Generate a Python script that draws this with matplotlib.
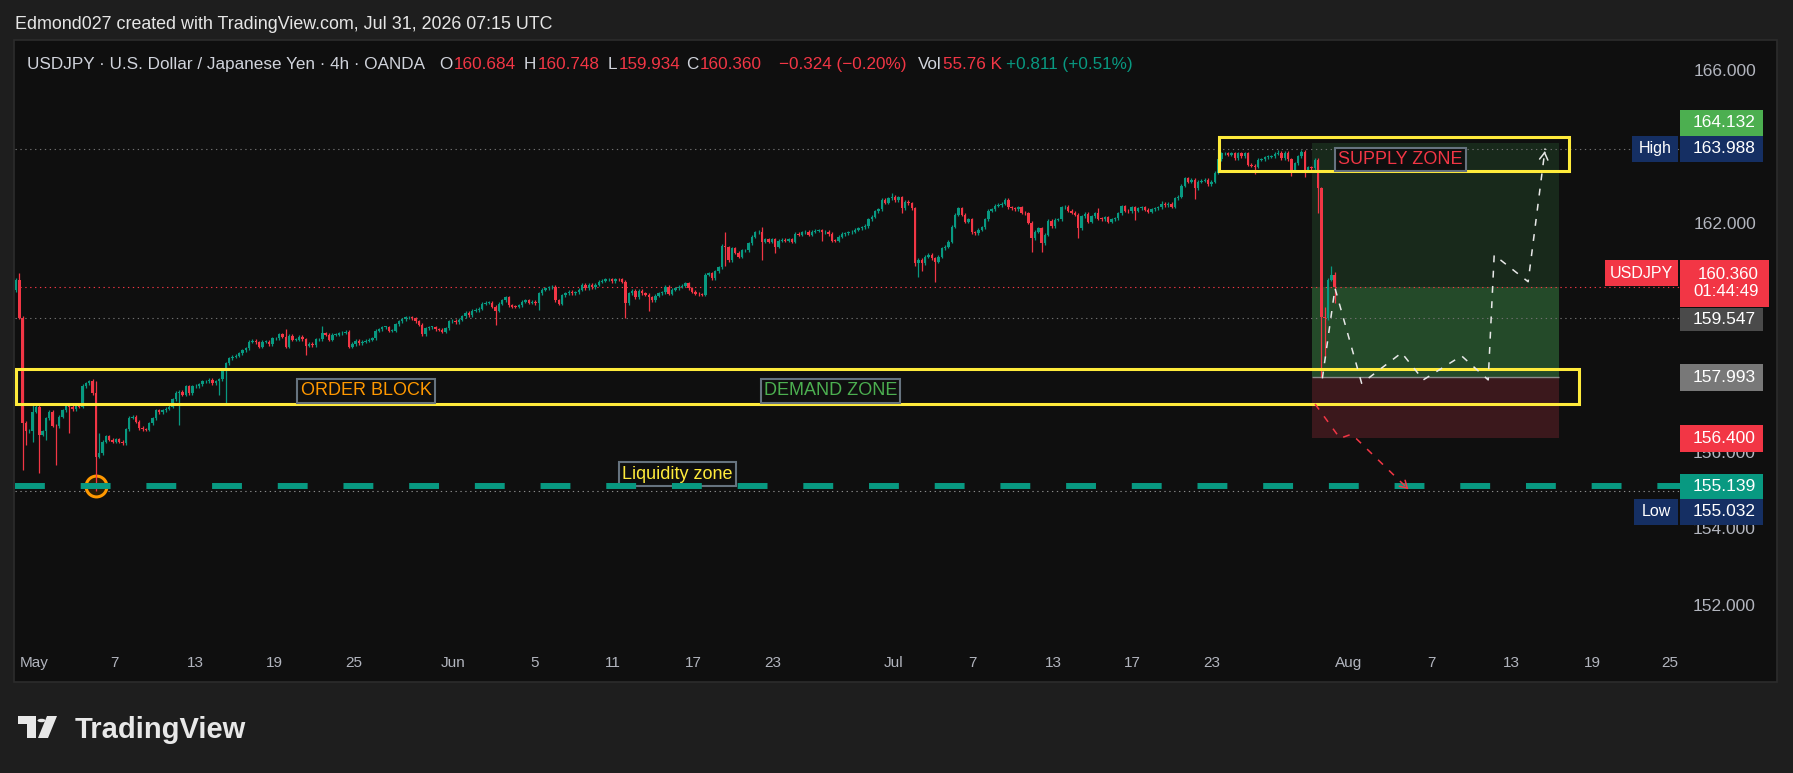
import numpy as np
import matplotlib
matplotlib.use('Agg')
import matplotlib.pyplot as plt
from matplotlib import font_manager
from matplotlib.patches import Rectangle, Polygon, Circle

W, H = 1793, 773

# ---- USDJPY 4h candles (open of each bar = previous close) ----
first_open = 160.28
closes = [
    160.55, 159.56, 156.81, 156.58, 156.60, 157.10, 157.23, 156.49, 156.58, 156.93,
    157.10, 156.73, 156.71, 156.97, 157.14, 157.27, 157.23, 157.16, 157.29, 157.23,
    157.77, 157.84, 157.90, 157.58, 155.92, 156.01, 156.31, 156.45, 156.36, 156.31,
    156.38, 156.31, 156.27, 156.64, 156.94, 156.97, 156.84, 156.67, 156.64, 156.62,
    156.79, 156.93, 157.13, 157.08, 157.14, 157.17, 157.23, 157.42, 157.60, 157.62,
    157.54, 157.76, 157.58, 157.76, 157.77, 157.82, 157.89, 157.90, 157.93, 157.84,
    157.90, 157.95, 158.15, 158.37, 158.50, 158.54, 158.56, 158.63, 158.71, 158.76,
    158.93, 158.96, 158.91, 158.80, 158.93, 158.93, 158.86, 159.02, 159.02, 159.13,
    159.06, 158.80, 159.08, 158.98, 158.98, 159.06, 158.99, 158.82, 158.87, 158.84,
    158.99, 158.99, 159.15, 159.11, 158.98, 159.11, 159.11, 159.15, 159.17, 159.19,
    158.80, 158.87, 158.95, 158.89, 158.93, 158.95, 158.98, 159.02, 159.22, 159.26,
    159.31, 159.31, 159.22, 159.22, 159.39, 159.46, 159.52, 159.57, 159.57, 159.54,
    159.46, 159.37, 159.13, 159.28, 159.31, 159.31, 159.26, 159.24, 159.19, 159.28,
    159.46, 159.48, 159.44, 159.50, 159.60, 159.69, 159.63, 159.74, 159.76, 159.79,
    159.92, 159.95, 159.95, 159.85, 159.74, 159.92, 160.01, 160.09, 159.89, 159.85,
    159.84, 159.89, 159.98, 160.02, 159.95, 159.98, 159.94, 160.20, 160.29, 160.33,
    160.35, 160.37, 160.01, 159.92, 160.15, 160.20, 160.24, 160.20, 160.22, 160.29,
    160.42, 160.33, 160.42, 160.36, 160.42, 160.50, 160.53, 160.56, 160.56, 160.52,
    160.57, 160.56, 160.50, 159.94, 160.20, 160.27, 160.09, 160.27, 160.20, 160.16,
    160.09, 160.02, 160.13, 160.20, 160.22, 160.37, 160.18, 160.29, 160.33, 160.37,
    160.39, 160.46, 160.33, 160.24, 160.18, 160.17, 160.16, 160.68, 160.72, 160.59,
    160.77, 160.88, 161.44, 161.40, 161.07, 161.38, 161.26, 161.16, 161.32, 161.33,
    161.51, 161.68, 161.79, 161.81, 161.55, 161.61, 161.55, 161.61, 161.42, 161.57,
    161.60, 161.57, 161.61, 161.55, 161.75, 161.73, 161.79, 161.81, 161.73, 161.81,
    161.84, 161.85, 161.79, 161.81, 161.75, 161.58, 161.57, 161.68, 161.75, 161.77,
    161.79, 161.81, 161.86, 161.90, 161.93, 161.96, 162.14, 162.20, 162.34, 162.40,
    162.64, 162.57, 162.69, 162.73, 162.64, 162.71, 162.42, 162.60, 162.55, 162.42,
    161.00, 161.07, 160.98, 161.16, 161.20, 161.11, 161.03, 161.16, 161.38, 161.42,
    161.55, 161.94, 162.25, 162.42, 162.25, 162.07, 162.14, 161.79, 161.77, 161.86,
    161.93, 162.14, 162.36, 162.40, 162.49, 162.51, 162.54, 162.64, 162.45, 162.42,
    162.40, 162.45, 162.31, 162.29, 162.05, 161.64, 161.81, 161.90, 161.51, 161.73,
    162.09, 161.96, 162.12, 162.14, 162.45, 162.47, 162.36, 162.31, 162.25, 161.90,
    162.21, 162.28, 162.07, 162.21, 162.29, 162.15, 162.14, 162.19, 162.07, 162.14,
    162.16, 162.29, 162.48, 162.36, 162.34, 162.45, 162.36, 162.42, 162.45, 162.38,
    162.33, 162.40, 162.42, 162.45, 162.54, 162.51, 162.54, 162.47, 162.69, 162.73,
    163.01, 163.21, 163.12, 163.17, 162.95, 163.12, 163.14, 163.17, 163.06, 163.12,
    163.36, 163.71, 163.86, 163.86, 163.82, 163.86, 163.73, 163.86, 163.79, 163.86,
    163.56, 163.54, 163.51, 163.69, 163.71, 163.76, 163.77, 163.79, 163.85, 163.88,
    163.73, 163.88, 163.71, 163.43, 163.60, 163.79, 163.90, 163.43, 163.50, 163.47,
    163.69, 162.95, 159.59, 159.55, 160.55, 160.684, 160.36,
]
# long wicks, keyed by bar index
wick_high = {1: 160.73, 5: 157.32, 23: 157.95, 24: 157.90, 25: 156.55, 81: 159.25,
             92: 159.34, 213: 161.81, 224: 161.94, 263: 162.83, 325: 162.42,
             344: 162.62, 361: 163.988, 379: 163.95, 393: 159.85, 395: 160.90,
             396: 160.748}
wick_low = {2: 155.57, 3: 156.23, 5: 156.31, 7: 155.50, 9: 156.36, 12: 155.70,
            16: 156.55, 24: 155.032, 49: 156.75, 61: 157.54, 63: 157.32, 87: 158.58,
            144: 159.37, 157: 159.76, 183: 159.54, 190: 159.74, 213: 160.90,
            224: 161.07, 228: 161.26, 242: 161.58, 266: 162.31, 270: 160.90,
            271: 160.63, 272: 160.77, 276: 160.50, 305: 161.29, 308: 161.29,
            319: 161.64, 336: 162.12, 354: 162.67, 372: 163.32, 383: 163.27,
            387: 163.25, 391: 162.31, 392: 157.993, 393: 158.54, 396: 159.934}

time_ticks = [5.4, 29.7, 53.8, 77.5, 101.5, 131.2, 155.6, 179.3, 203.3, 227.3,
              263.4, 287.1, 311.4, 335.1, 359.2, 400.3, 425.2, 449.2, 473.3, 496.7]
time_labels = ['May', '7', '13', '19', '25', 'Jun', '5', '11', '17', '23',
               'Jul', '7', '13', '17', '23', 'Aug', '7', '13', '19', '25']
# scale labels that are not hidden behind the price tags
price_ticks = [152, 154, 156, 162, 166]

last_price = 160.36
countdown = '01:44:49'
entry, target, stop = 157.993, 164.132, 156.400
mid_level = 159.547
liquidity = 155.139
high_val, low_val = 163.988, 155.032
low_bar = 24

supply_zone = (361.3, 466.4, 163.40, 164.29)
demand_zone = (-0.1, 469.4, 157.29, 158.21)
position_span = (389.2, 463.4)

path_bars = [392.3, 396.1, 404.1, 416.1, 422.6, 434.1, 442.1, 443.9, 454.1, 459.2]
path_prices = [157.97, 160.33, 157.84, 158.64, 157.93, 158.56, 157.93, 161.20, 160.50, 163.99]
drop_bars = [390.1, 397.6, 401.1, 418.1]
drop_prices = [157.30, 156.40, 156.51, 155.07]

zone_labels = ['ORDER BLOCK', 'DEMAND ZONE', 'SUPPLY ZONE', 'Liquidity zone']
zone_label_x = [105.1, 244.6, 415.7, 198.6]
zone_label_y = [157.64, 157.64, 163.70, 155.46]
zone_label_colors = ['#ff9800', '#4caf50', '#f23645', '#ffeb3b']

# ---- style ----
GREEN, RED, YELLOW = '#089981', '#f23645', '#ffeb3b'
TXT, AXT = '#d1d4dc', '#b2b5be'
names = {f.name for f in font_manager.fontManager.ttflist}
FONT = 'Liberation Sans'
NARROW = 'Liberation Sans Narrow' if 'Liberation Sans Narrow' in names else FONT
zone_fs = 15.5 if NARROW != FONT else 13
plt.rcParams['font.family'] = [FONT, 'DejaVu Sans']


def fig_xy(x, y):
    return x / W, 1 - y / H


fig = plt.figure(figsize=(W / 100, H / 100), dpi=100, facecolor='#1e1e1e')
fig.patches.append(Rectangle(fig_xy(14, 682), 1763 / W, 642 / H, transform=fig.transFigure,
                             facecolor='#0f0f0f', edgecolor='#2c2c2c', lw=1.2, zorder=-1))

ax = fig.add_axes([15 / W, 1 - 648 / H, 1665 / W, 608 / H])
ax.set_facecolor('none')
ax.set_xlim(-0.3, 499.7)
ax.set_ylim(150.91, 166.83)
for s in ax.spines.values():
    s.set_visible(False)
ax.set_yticks([])
ax.set_xticks(time_ticks)
ax.set_xticklabels(time_labels, fontsize=11, color=AXT)
ax.tick_params(axis='x', length=0, pad=6)


def price_y(p):
    # pixel row (from top) of a price
    return H - ax.transData.transform((0, p))[1]


# candles
c = np.array(closes)
o = np.array([first_open] + closes[:-1])
x = np.arange(len(c))
hi = np.array([wick_high.get(i, max(o[i], c[i]) + 0.04) for i in x])
lo = np.array([wick_low.get(i, min(o[i], c[i]) - 0.04) for i in x])
cols = np.where(c >= o, GREEN, RED)
ax.vlines(x, lo, hi, colors=cols, lw=0.9, zorder=4)
ax.bar(x, np.maximum(np.abs(c - o), 0.02), bottom=np.minimum(o, c), width=0.72,
       color=cols, lw=0, zorder=4.1)

# long position tool
px0, px1 = position_span
ax.add_patch(Rectangle((px0, last_price), px1 - px0, target - last_price, fc='#18291b', lw=0, zorder=1))
ax.add_patch(Rectangle((px0, entry), px1 - px0, last_price - entry, fc='#244a29', lw=0, zorder=1))
ax.add_patch(Rectangle((px0, stop), px1 - px0, entry - stop, fc='#3b181c', lw=0, zorder=1))
ax.hlines(entry, px0, px1, color='#8a8a8a', lw=1, zorder=2)

# price lines
dots = dict(lw=0.8, dashes=(1.2, 3.2), zorder=2)
ax.axhline(high_val, color='#707070', **dots)
ax.axhline(low_val, color='#8a8a8a', **dots)
ax.axhline(mid_level, color='#707070', **dots)
ax.axhline(last_price, color=RED, **dots)
ax.axhline(liquidity, color=GREEN, lw=4.3, dashes=(5, 6), dash_capstyle='butt', zorder=6)
ax.plot(low_bar, liquidity, 'o', ms=15, mfc='#2a1d06', mec='#ff9800', mew=2.2, zorder=3.5)

# zones
for x0, x1, y0, y1 in (supply_zone, demand_zone):
    ax.add_patch(Rectangle((x0, y0), x1 - x0, y1 - y0, fill=False, ec=YELLOW, lw=2.2, zorder=5))

for txt, lx, ly, col in zip(zone_labels, zone_label_x, zone_label_y, zone_label_colors):
    z = 5.5 if txt.startswith('Liq') else 7
    ax.text(lx, ly, txt, color=col, fontsize=zone_fs, family=NARROW, ha='center', va='center',
            zorder=z, bbox=dict(boxstyle='square,pad=0.18', fc='#0f0f0f', ec='#66737f', lw=1.5))

# projected paths
ax.plot(path_bars, path_prices, color='#e8e8e8', lw=1.1, dashes=(4.5, 5.5), zorder=8)
ax.plot(drop_bars, drop_prices, color=RED, lw=1.1, dashes=(4.5, 5.5), zorder=8)
for bx, py, col in ((path_bars, path_prices, '#e8e8e8'), (drop_bars, drop_prices, RED)):
    tail = (bx[-1] - 0.05 * (bx[-1] - bx[-2]), py[-1] - 0.05 * (py[-1] - py[-2]))
    ax.annotate('', xy=(bx[-1], py[-1]), xytext=tail, zorder=8,
                arrowprops=dict(arrowstyle='->,head_length=0.5,head_width=0.3', color=col, lw=1.1))

# ---- right price scale ----
for p in price_ticks:
    fig.text(1756 / W, 1 - price_y(p) / H, f'{p:.3f}', color=AXT, fontsize=12.5,
             ha='right', va='center', zorder=5)


def tag(x0, x1, yc, text, fc, h=26, fs=12.5, tc='white'):
    fig.patches.append(Rectangle(fig_xy(x0, yc + h / 2), (x1 - x0) / W, h / H,
                                 transform=fig.transFigure, fc=fc, lw=0, zorder=6))
    if text:
        align = 'right' if x0 >= 1680 else 'center'
        tx = 1756 if x0 >= 1680 else (x0 + x1) / 2
        fig.text(tx / W, 1 - yc / H, text, color=tc, fontsize=fs, ha=align, va='center', zorder=7)


NAVY = '#152f63'
tag(1680, 1763, price_y(target) - 20.5, f'{target:.3f}', '#4caf50')
yh = price_y(high_val)
tag(1632, 1678, yh, 'High', NAVY, fs=11.5)
tag(1680, 1763, yh, f'{high_val:.3f}', NAVY)
yc = price_y(last_price)
tag(1605, 1678, yc - 14, 'USDJPY', RED, fs=11.5)
tag(1680, 1769, yc - 3.5, '', RED, h=47)
fig.text(1759 / W, 1 - (yc - 4) / H, f'{last_price:.3f}\n{countdown}', color='white',
         fontsize=12.2, ha='right', ma='right', va='center', linespacing=1.15, zorder=7)
tag(1680, 1763, price_y(mid_level) + 1.5, f'{mid_level:.3f}', '#4a4a4a', h=23)
tag(1680, 1763, price_y(entry), f'{entry:.3f}', '#787878', h=27)
tag(1680, 1763, price_y(stop), f'{stop:.3f}', RED, h=27)
tag(1680, 1763, price_y(liquidity), f'{liquidity:.3f}', GREEN, h=25)
yl = price_y(low_val) + 21
tag(1634, 1678, yl, 'Low', NAVY, fs=11.5)
tag(1680, 1763, yl, f'{low_val:.3f}', NAVY)

# ---- header texts ----
fig.text(15 / W, 1 - 29 / H, 'Edmond027 created with TradingView.com, Jul 31, 2026 07:15 UTC',
         color='#e6e6e6', fontsize=12.9, va='baseline')

renderer = fig.canvas.get_renderer()
header = [(27, [('USDJPY · U.S. Dollar / Japanese Yen · 4h · OANDA', TXT)]),
          (439, [('O', TXT), ('160.684', RED)]),
          (524, [('H', TXT), ('160.748', RED)]),
          (608, [('L', TXT), ('159.934', RED)]),
          (686, [('C', TXT), ('160.360', RED)]),
          (779, [('\u22120.324 (\u22120.20%)', RED)]),
          (918, [('Vol', TXT), ('55.76 K', RED)]),
          (1006, [('+0.811 (+0.51%)', GREEN)])]
for x0, parts in header:
    xpos = x0
    for s, col in parts:
        t = fig.text(xpos / W, 1 - 69 / H, s, color=col, fontsize=12.3, va='baseline', zorder=5)
        xpos = t.get_window_extent(renderer).x1 + 1

# ---- TradingView logo ----
LOGO = '#e8e8e8'
fig.patches.append(Polygon([fig_xy(18, 716), fig_xy(36, 716), fig_xy(36, 738), fig_xy(27, 738),
                            fig_xy(27, 724), fig_xy(18, 724)], closed=True,
                           transform=fig.transFigure, fc=LOGO, lw=0))
fig.patches.append(Circle(fig_xy(41.5, 720.5), 4 / W, transform=fig.transFigure, fc=LOGO, lw=0))
fig.patches.append(Polygon([fig_xy(47, 716), fig_xy(57, 716), fig_xy(48, 738), fig_xy(38, 738)],
                           closed=True, transform=fig.transFigure, fc=LOGO, lw=0))
fig.text(75 / W, 1 - 738 / H, 'TradingView', color=LOGO, fontsize=21, fontweight='bold',
         va='baseline')

fig.savefig('out.png', dpi=100, facecolor=fig.get_facecolor())
